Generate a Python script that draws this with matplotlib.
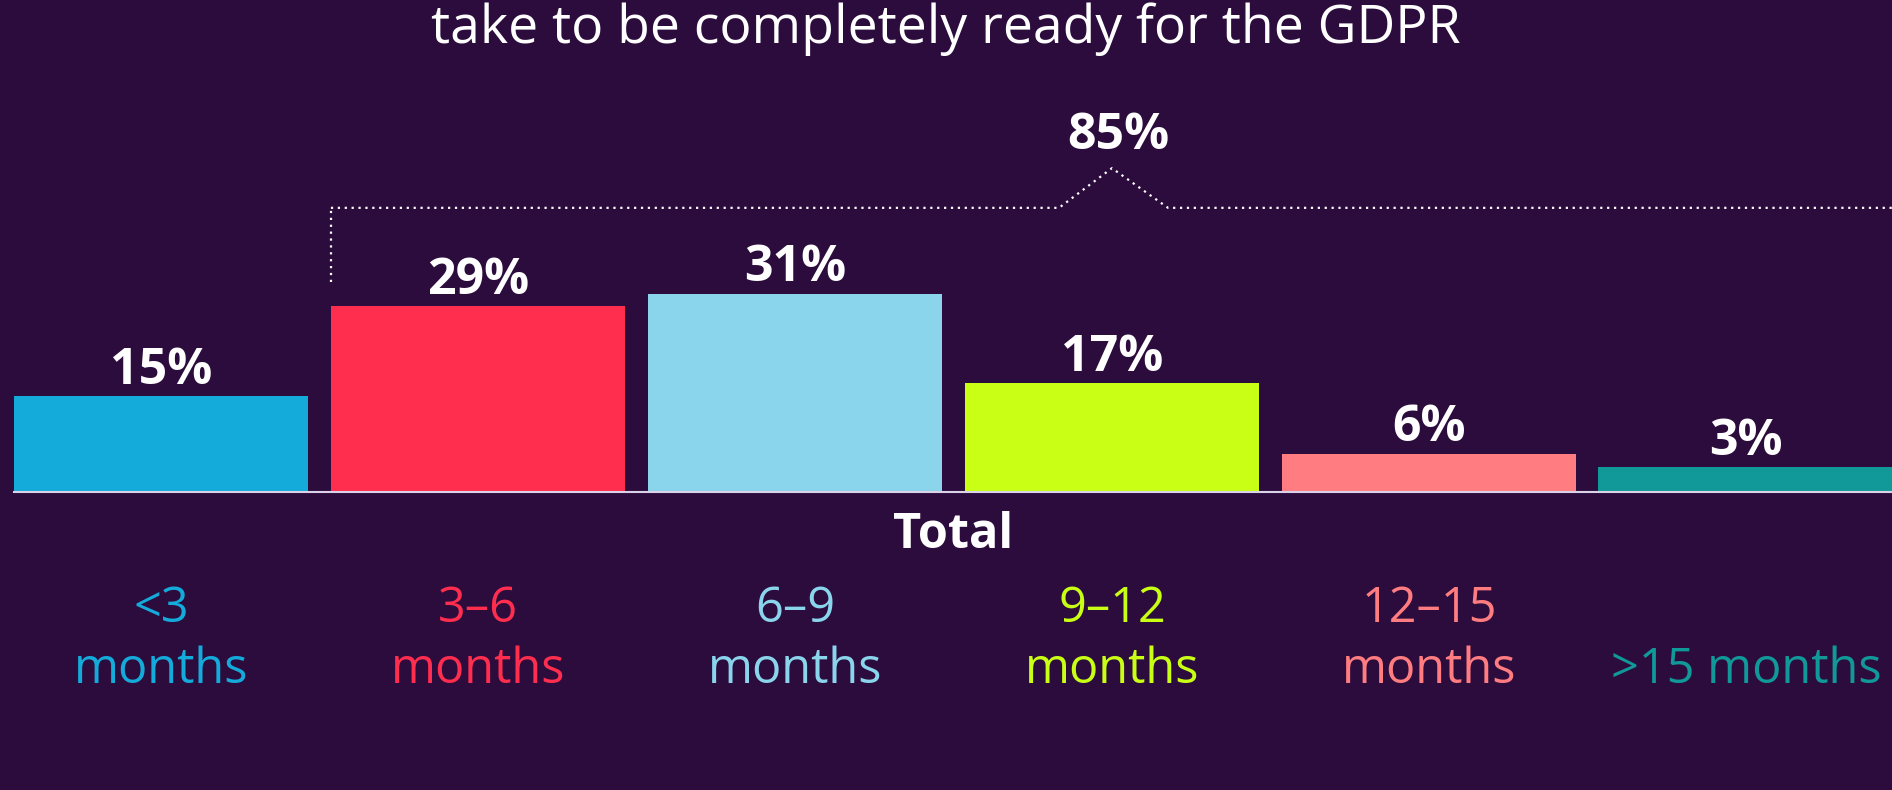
import matplotlib.pyplot as plt
from matplotlib.transforms import blended_transform_factory

# data
top_lines = ["<3", "3–6", "6–9", "9–12", "12–15", ""]
bottom_lines = ["months", "months", "months", "months", "months", ">15 months"]
values = [15, 29, 31, 17, 6, 3.9]
value_labels = ["15%", "29%", "31%", "17%", "6%", "3%"]
colors = ["#14ABDB", "#FF2D4E", "#8AD4EC", "#C8FF14", "#FF7C80", "#11999A"]
total_label = "85%"
title = "take to be completely ready for the GDPR"

bg = "#2C0C3D"
plt.rcParams['font.family'] = ['Open Sans', 'DejaVu Sans']

fig = plt.figure(figsize=(18.92, 7.9), dpi=100, facecolor=bg)
# bar area: from the figure top down to the baseline (492px from top)
ax = fig.add_axes([0, (790 - 492) / 790, 1, 492 / 790])
ax.set_facecolor(bg)
ax.set_xlim(-0.508, 5.461)
ax.set_ylim(0, 492 / 6.4)
ax.axis('off')

x = range(len(values))
bars = ax.bar(x, values, width=0.93, color=colors, zorder=2)
ax.plot([-0.465, 5.6], [0, 0], color="#d9d2e9", lw=1.5, zorder=3, clip_on=False)

for xi, v, lab in zip(x, values, value_labels):
    ax.annotate(lab, (xi, v), xytext=(0, 9), textcoords='offset points',
                ha='center', va='baseline', color='white', fontsize=36, fontweight='bold')

# bracket over the 3-month+ bars
dot = dict(color='white', lw=1.6, linestyle=(0, (1, 2.1)), clip_on=False)
ax.plot([0.536, 0.536], [32.8, 44.4], **dot)
ax.plot([0.536, 2.833, 3.0, 3.177, 5.6], [44.4, 44.4, 50.6, 44.4, 44.4], **dot)
ax.text(3.02, 53.6, total_label, ha='center', va='baseline', color='white',
        fontsize=36, fontweight='bold')

fig.text(0.5, 1 - 43 / 790, title, ha='center', va='baseline', color='white', fontsize=38.5)

tr = blended_transform_factory(ax.transData, fig.transFigure)
ax.text(2.5, 1 - 548 / 790, "Total", transform=tr, ha='center', va='baseline',
        color='white', fontsize=35, fontweight='bold')
for xi, t1, t2, c in zip(x, top_lines, bottom_lines, colors):
    ax.text(xi, 1 - 622 / 790, t1, transform=tr, ha='center', va='baseline', color=c, fontsize=35)
    ax.text(xi, 1 - 683 / 790, t2, transform=tr, ha='center', va='baseline', color=c, fontsize=35)

fig.savefig("out.png", dpi=100, facecolor=bg)
